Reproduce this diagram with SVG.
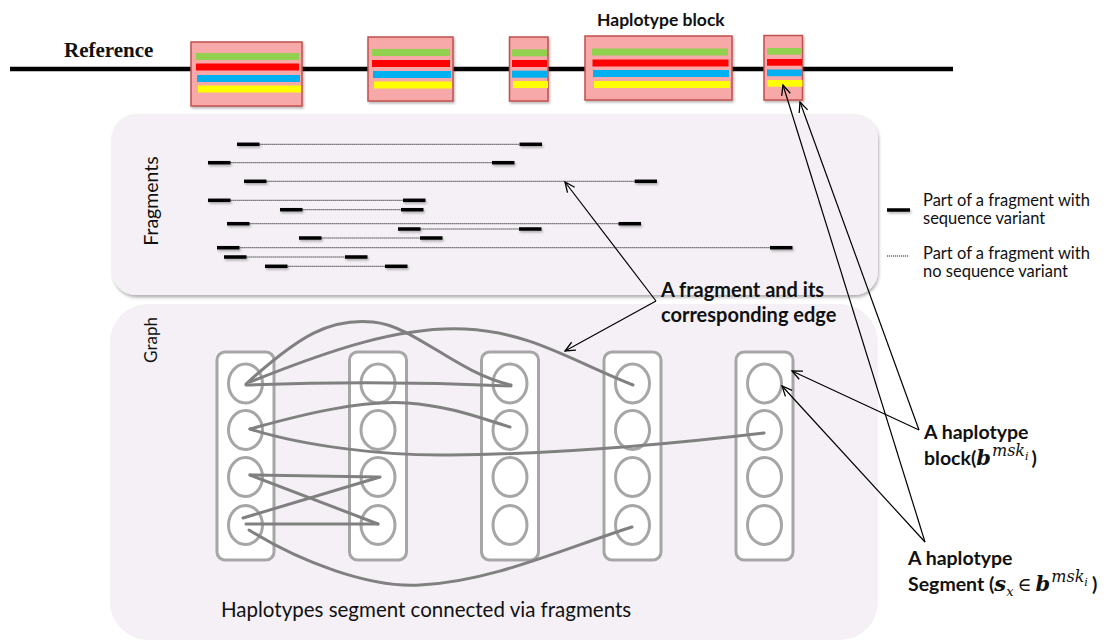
<svg xmlns="http://www.w3.org/2000/svg" width="1109" height="643" viewBox="0 0 1109 643">
  <defs>
    <filter id="soft" x="-10%" y="-20%" width="130%" height="150%">
      <feDropShadow dx="1.2" dy="1.8" stdDeviation="1" flood-color="#000" flood-opacity="0.28"/>
    </filter>
    <filter id="softLine" filterUnits="userSpaceOnUse" x="880" y="200" width="40" height="20">
      <feDropShadow dx="1.2" dy="1.8" stdDeviation="1" flood-color="#000" flood-opacity="0.28"/>
    </filter>
    <filter id="panelShadow" x="-5%" y="-5%" width="110%" height="115%">
      <feDropShadow dx="1" dy="2.5" stdDeviation="1.8" flood-color="#000" flood-opacity="0.3"/>
    </filter>
    <marker id="arrowOpen" viewBox="0 0 12 12" refX="11" refY="6" markerWidth="12" markerHeight="12" markerUnits="userSpaceOnUse" orient="auto">
      <path d="M1,1.5 L11,6 L1,10.5" fill="none" stroke="#000" stroke-width="1.3"/>
    </marker>
    <style>
      .block{fill:#f7a9a9;stroke:#c0504d;stroke-width:1.5}
      .bg{fill:#92d050}.br{fill:#ff0000}.bb{fill:#00b0f0}.by{fill:#ffff00}
      .panel{fill:#f4f0f5}
      .var{stroke:#000;stroke-width:3.5}
      .novar{stroke:#222;stroke-width:1;stroke-dasharray:1.2 0.8}
      .col{fill:#fff;stroke:#a6a6a6;stroke-width:3}
      .seg{fill:none;stroke:#a6a6a6;stroke-width:3}
      .edge{fill:none;stroke:#808080;stroke-width:3;stroke-linecap:round}
      .note{fill:none;stroke:#000;stroke-width:1.2;marker-end:url(#arrowOpen)}
      .sans{font-family:Lato,"Open Sans","Liberation Sans",sans-serif;fill:#111}
      .bold{font-weight:bold}
      .math{font-family:"DejaVu Serif","Liberation Serif",serif;font-style:italic;fill:#111}
    </style>
  </defs>

  <rect width="1109" height="643" fill="#fff"/>

  <!-- panels -->
  <g id="fragments-panel">
    <rect class="panel" x="112" y="114" width="766" height="181" rx="24" filter="url(#panelShadow)"/>
    <text class="sans" font-size="19.5" text-anchor="middle" transform="translate(158,201) rotate(-90)">Fragments</text>
  </g>
  <g id="graph-panel">
    <rect class="panel" x="110" y="304" width="768" height="336" rx="38"/>
    <text class="sans" font-size="17" text-anchor="middle" transform="translate(157,340) rotate(-90)">Graph</text>
    <text class="sans" font-size="20.5" x="221" y="617">Haplotypes segment connected via fragments</text>
  </g>

  <!-- reference genome with haplotype blocks -->
  <g id="reference">
    <text x="64" y="57" font-family="'Liberation Serif','Times New Roman',serif" font-weight="bold" font-size="21" fill="#111">Reference</text>
    <line x1="10" y1="69" x2="953" y2="69" stroke="#000" stroke-width="4.5"/>
  </g>

  <g id="block-1" filter="url(#soft)">
    <rect class="block" x="191" y="42" width="111" height="64"/>
    <rect class="bg" x="196" y="53" width="103" height="7"/>
    <rect class="br" x="196" y="63.5" width="103" height="7"/>
    <rect class="bb" x="197" y="75" width="103" height="7"/>
    <rect class="by" x="198" y="85.5" width="103" height="7"/>
  </g>
  <g id="block-2" filter="url(#soft)">
    <rect class="block" x="368" y="37" width="85" height="64"/>
    <rect class="bg" x="372" y="49" width="78" height="7"/>
    <rect class="br" x="372" y="60" width="78" height="7"/>
    <rect class="bb" x="373" y="71" width="78" height="7"/>
    <rect class="by" x="374" y="81.5" width="78" height="7"/>
  </g>
  <g id="block-3" filter="url(#soft)">
    <rect class="block" x="509.5" y="37" width="38.5" height="64"/>
    <rect class="bg" x="512" y="49.3" width="35" height="7"/>
    <rect class="br" x="512" y="60" width="35" height="7"/>
    <rect class="bb" x="512" y="70.7" width="35" height="7"/>
    <rect class="by" x="513" y="81" width="35" height="7"/>
  </g>
  <g id="block-4" filter="url(#soft)">
    <rect class="block" x="585" y="36" width="147" height="64"/>
    <rect class="bg" x="592" y="48.5" width="136" height="7"/>
    <rect class="br" x="592.5" y="59.5" width="136" height="7"/>
    <rect class="bb" x="593" y="70" width="136" height="7"/>
    <rect class="by" x="594" y="81" width="136" height="7"/>
  </g>
  <text class="sans bold" font-size="17.5" x="597" y="25.5">Haplotype block</text>
  <g id="block-5" filter="url(#soft)">
    <rect class="block" x="764" y="35.5" width="38.5" height="64.5"/>
    <rect class="bg" x="767" y="48" width="35" height="6.7"/>
    <rect class="br" x="767" y="59" width="35" height="6.7"/>
    <rect class="bb" x="767" y="69.5" width="35" height="6.7"/>
    <rect class="by" x="767.5" y="80" width="35" height="6.7"/>
  </g>

  <!-- sequencing fragments: thick = variant site, dotted = no variant -->
  <g id="fragments">
    <g class="novar">
      <line x1="259.5" y1="144.3" x2="519.5" y2="144.3"/>
      <line x1="230.5" y1="162.7" x2="492" y2="162.7"/>
      <line x1="266.5" y1="181.3" x2="634.6" y2="181.3"/>
      <line x1="230.5" y1="200.3" x2="403" y2="200.3"/>
      <line x1="302.5" y1="209.7" x2="401" y2="209.7"/>
      <line x1="249.5" y1="223.7" x2="618.5" y2="223.7"/>
      <line x1="420.5" y1="229" x2="519" y2="229"/>
      <line x1="321.5" y1="238" x2="420" y2="238"/>
      <line x1="239.5" y1="247.7" x2="770" y2="247.7"/>
      <line x1="246.5" y1="257" x2="345" y2="257"/>
      <line x1="287.5" y1="266.3" x2="385" y2="266.3"/>
    </g>
    <g class="var" filter="url(#soft)">
      <line x1="237" y1="144.3" x2="259.5" y2="144.3"/><line x1="519.5" y1="144.3" x2="542" y2="144.3"/>
      <line x1="208" y1="162.7" x2="230.5" y2="162.7"/><line x1="492" y1="162.7" x2="514.5" y2="162.7"/>
      <line x1="244" y1="181.3" x2="266.5" y2="181.3"/><line x1="634.6" y1="181.3" x2="657" y2="181.3"/>
      <line x1="208" y1="200.3" x2="230.5" y2="200.3"/><line x1="403" y1="200.3" x2="425.5" y2="200.3"/>
      <line x1="280" y1="209.7" x2="302.5" y2="209.7"/><line x1="401" y1="209.7" x2="423.5" y2="209.7"/>
      <line x1="227" y1="223.7" x2="249.5" y2="223.7"/><line x1="618.5" y1="223.7" x2="641" y2="223.7"/>
      <line x1="398" y1="229" x2="420.5" y2="229"/><line x1="519" y1="229" x2="541.5" y2="229"/>
      <line x1="299" y1="238" x2="321.5" y2="238"/><line x1="420" y1="238" x2="442.5" y2="238"/>
      <line x1="217" y1="247.7" x2="239.5" y2="247.7"/><line x1="770" y1="247.7" x2="792.5" y2="247.7"/>
      <line x1="224" y1="257" x2="246.5" y2="257"/><line x1="345" y1="257" x2="367.5" y2="257"/>
      <line x1="265" y1="266.3" x2="287.5" y2="266.3"/><line x1="385" y1="266.3" x2="407.5" y2="266.3"/>
    </g>
  </g>

  <!-- legend -->
  <g id="legend">
    <line class="var" x1="887" y1="210" x2="910" y2="210" filter="url(#softLine)"/>
    <text class="sans" font-size="16.5" x="923" y="205.5">Part of a fragment with</text>
    <text class="sans" font-size="16.5" x="923" y="224">sequence variant</text>
    <line class="novar" x1="887" y1="256" x2="909" y2="256"/>
    <text class="sans" font-size="16.5" x="923" y="259">Part of a fragment with</text>
    <text class="sans" font-size="16.5" x="923" y="277">no sequence variant</text>
  </g>

  <!-- haplotype segment columns (one per block) -->
  <g id="column-1">
    <rect class="col" x="217" y="352" width="57" height="208" rx="8"/>
    <ellipse class="seg" cx="245.5" cy="383.5" rx="17" ry="19.5"/>
    <ellipse class="seg" cx="245.5" cy="430" rx="17" ry="19.5"/>
    <ellipse class="seg" cx="245.5" cy="477" rx="17" ry="19.5"/>
    <ellipse class="seg" cx="245.5" cy="525" rx="17" ry="19.5"/>
  </g>
  <g id="column-2">
    <rect class="col" x="349.5" y="352" width="57" height="208" rx="8"/>
    <ellipse class="seg" cx="378" cy="383.5" rx="17" ry="19.5"/>
    <ellipse class="seg" cx="378" cy="430" rx="17" ry="19.5"/>
    <ellipse class="seg" cx="378" cy="477" rx="17" ry="19.5"/>
    <ellipse class="seg" cx="378" cy="525" rx="17" ry="19.5"/>
  </g>
  <g id="column-3">
    <rect class="col" x="481.5" y="352" width="57" height="208" rx="8"/>
    <ellipse class="seg" cx="510" cy="383.5" rx="17" ry="19.5"/>
    <ellipse class="seg" cx="510" cy="430" rx="17" ry="19.5"/>
    <ellipse class="seg" cx="510" cy="477" rx="17" ry="19.5"/>
    <ellipse class="seg" cx="510" cy="525" rx="17" ry="19.5"/>
  </g>
  <g id="column-4">
    <rect class="col" x="604" y="352" width="57" height="208" rx="8"/>
    <ellipse class="seg" cx="632.5" cy="383.5" rx="17" ry="19.5"/>
    <ellipse class="seg" cx="632.5" cy="430" rx="17" ry="19.5"/>
    <ellipse class="seg" cx="632.5" cy="477" rx="17" ry="19.5"/>
    <ellipse class="seg" cx="632.5" cy="525" rx="17" ry="19.5"/>
  </g>
  <g id="column-5">
    <rect class="col" x="736" y="352" width="57" height="208" rx="8"/>
    <ellipse class="seg" cx="764.5" cy="383.5" rx="17" ry="19.5"/>
    <ellipse class="seg" cx="764.5" cy="430" rx="17" ry="19.5"/>
    <ellipse class="seg" cx="764.5" cy="477" rx="17" ry="19.5"/>
    <ellipse class="seg" cx="764.5" cy="525" rx="17" ry="19.5"/>
  </g>

  <!-- fragment edges between segments -->
  <g id="edges">
    <path class="edge" d="M246,384 C300,335 330,318 373,322 C415,326 455,372 511,385"/>
    <path class="edge" d="M250,382 C330,350 400,326 465,329 C530,332 570,360 633,385"/>
    <path class="edge" d="M246,385 Q378,380 511,386"/>
    <path class="edge" d="M250,429 C300,415 360,400 407,403 C450,406 480,418 510,427"/>
    <path class="edge" d="M250,429 C300,445 380,456 450,455 C560,454 680,443 764,433"/>
    <path class="edge" d="M250,475 L378,524"/>
    <path class="edge" d="M250,475 L378,477"/>
    <path class="edge" d="M243,518 L380,477"/>
    <path class="edge" d="M246,524 L378,524"/>
    <path class="edge" d="M249,530 C300,562 370,588 420,585 C490,582 560,550 632,527"/>
  </g>

  <!-- annotation arrows -->
  <g id="annotations">
    <path class="note" d="M656,301 L565,182"/>
    <path class="note" d="M656,301 L565,351"/>
    <path class="note" d="M919,430 L800,102"/>
    <path class="note" d="M919,430 L792,371"/>
    <path class="note" d="M925,542 L783,85"/>
    <path class="note" d="M925,542 L782,386"/>
  </g>

  <g id="label-fragment-edge" class="sans bold" font-size="20">
    <text x="661" y="297">A fragment and its</text>
    <text x="661" y="322">corresponding edge</text>
  </g>

  <g id="label-block" class="sans bold" font-size="19.5">
    <text x="924" y="439">A haplotype</text>
    <text x="924" y="465">block(<tspan class="math" font-size="21">b</tspan><tspan class="math" font-weight="normal" font-size="16" dx="1" dy="-9">msk</tspan><tspan class="math" font-weight="normal" font-size="11" dy="3.5">i</tspan><tspan dx="3" dy="5.5">)</tspan></text>
  </g>

  <g id="label-segment" class="sans bold" font-size="19.5">
    <text x="908" y="565">A haplotype</text>
    <text x="908" y="591">Segment (<tspan class="math" font-size="21">s</tspan><tspan class="math" font-weight="normal" font-size="13" dy="4.5">x</tspan><tspan font-family="'DejaVu Serif',serif" font-weight="normal" font-size="19" dx="4" dy="-4.5">∈</tspan><tspan class="math" font-size="21" dx="4">b</tspan><tspan class="math" font-weight="normal" font-size="16" dx="1" dy="-9">msk</tspan><tspan class="math" font-weight="normal" font-size="11" dy="3.5">i</tspan><tspan dx="4" dy="5.5">)</tspan></text>
  </g>
</svg>
